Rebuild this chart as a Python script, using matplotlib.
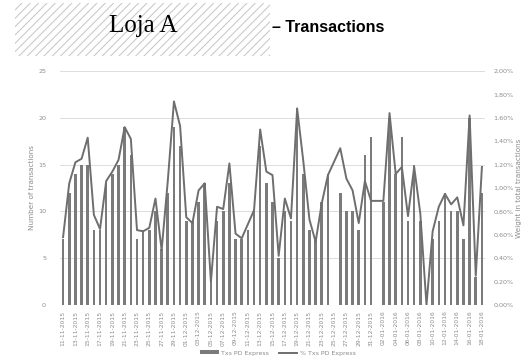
import matplotlib
matplotlib.use("Agg")
import matplotlib.pyplot as plt
import matplotlib.ticker as ptick
from matplotlib.patches import Rectangle
import numpy as np
import pandas as pd

# daily values, 11-11-2015 .. 18-01-2016 (25/12 and 01/01 closed)
dias = pd.date_range("2015-11-11", "2016-01-18", freq="D")
txs = [7, 12, 14, 15, 15, 8, 8, 13, 14, 15, 19, 16, 7, 8, 8, 10, 6, 12, 19, 17,
       9, 9, 11, 13, 3, 9, 10, 13, 7, 7, 8, 10, 17, 13, 11, 5, 10, 9, 21, 14,
       8, 7, 11, 14, np.nan, 12, 10, 10, 8, 16, 18, np.nan, 11, 20, 14, 18, 9, 15, 9, 0,
       7, 9, 12, 10, 10, 7, 20, 3, 12]
pct = [0.58, 1.04, 1.22, 1.25, 1.43, 0.77, 0.65, 1.06, 1.14, 1.24, 1.52, 1.42, 0.64, 0.63, 0.66, 0.91, 0.47, 1.06, 1.74, 1.53,
       0.75, 0.70, 0.98, 1.04, 0.20, 0.84, 0.82, 1.21, 0.61, 0.57, 0.69, 0.81, 1.50, 1.14, 1.11, 0.42, 0.91, 0.74, 1.68, 1.23,
       0.73, 0.54, 0.87, 1.11, np.nan, 1.34, 1.08, 0.98, 0.70, 1.06, 0.89, np.nan, 0.89, 1.64, 1.12, 1.18, 0.76, 1.18, 0.78, 0.00,
       0.63, 0.84, 0.95, 0.86, 0.92, 0.68, 1.62, 0.25, 1.18]
labels = [d.strftime("%d-%m-%Y") for d in dias]

cinza_txt = "#8c8c8c"
cor_barra = "#7b7b7b"
cor_linha = "#6e6e6e"

plt.rcParams["hatch.linewidth"] = 0.7
fig = plt.figure(figsize=(5.25, 3.6), dpi=100)

# cabeçalho do slide
caixa = Rectangle((15 / 525, 1 - 56 / 360), 255 / 525, 53 / 360, transform=fig.transFigure,
                  facecolor="white", edgecolor="#c4c4c4", hatch="////", linewidth=0)
fig.add_artist(caixa)
fig.text(143 / 525, 1 - 26 / 360, "Loja A", ha="center", va="center",
         family="Liberation Serif", fontsize=18, color="black")
fig.text(272 / 525, 1 - 28 / 360, "– Transactions", ha="left", va="center",
         family="Liberation Sans", fontweight="bold", fontsize=11.5, color="black")

ax = fig.add_axes([60 / 525, 55 / 360, 425 / 525, 234 / 360])
x = np.arange(len(dias))
ax.bar(x, txs, width=0.42, color=cor_barra, zorder=2, label="Txs PD Express")
ax.set_xlim(-0.5, len(dias) - 0.5)
ax.set_ylim(0, 25)
ax.set_yticks(np.arange(0, 26, 5))
ax.grid(True, axis="y", color="#dcdcdc", linewidth=0.7, zorder=0)
ax.set_axisbelow(True)
for s in ax.spines.values():
    s.set_visible(False)
ax.set_xticks(x[::2])
ax.set_xticklabels(labels[::2], rotation=90, fontsize=4.3, color=cinza_txt)
ax.tick_params(axis="both", length=0, pad=4)
ax.tick_params(axis="y", labelsize=4.6, colors=cinza_txt, pad=10)
ax.set_ylabel("Number of transactions", fontsize=5.2, color=cinza_txt, labelpad=2)

ax2 = ax.twinx()
pct_arr = np.array(pct)
ok = ~np.isnan(pct_arr)
ax2.plot(x[ok], pct_arr[ok], color=cor_linha, linewidth=1.4, zorder=3, label="% Txs PD Express")
ax2.set_ylim(0, 2.0)
ax2.set_yticks(np.arange(0, 2.01, 0.2))
ax2.yaxis.set_major_formatter(ptick.FuncFormatter(lambda v, p: ("%.2f%%" % v).replace(".", ",")))
for s in ax2.spines.values():
    s.set_visible(False)
ax2.tick_params(axis="y", length=0, labelsize=4.6, colors=cinza_txt, pad=6)
ax2.set_ylabel("Weight in total transactions", fontsize=5.2, color=cinza_txt, labelpad=2)

h1, l1 = ax.get_legend_handles_labels()
h2, l2 = ax2.get_legend_handles_labels()
fig.legend(h1 + h2, l1 + l2, loc="center", bbox_to_anchor=(278 / 525, 1 - 353 / 360), ncol=2,
           frameon=False, fontsize=4.5, labelcolor=cinza_txt, handlelength=3, handleheight=0.6,
           columnspacing=1.5, handletextpad=0.4)

fig.savefig("out.png", dpi=100)
